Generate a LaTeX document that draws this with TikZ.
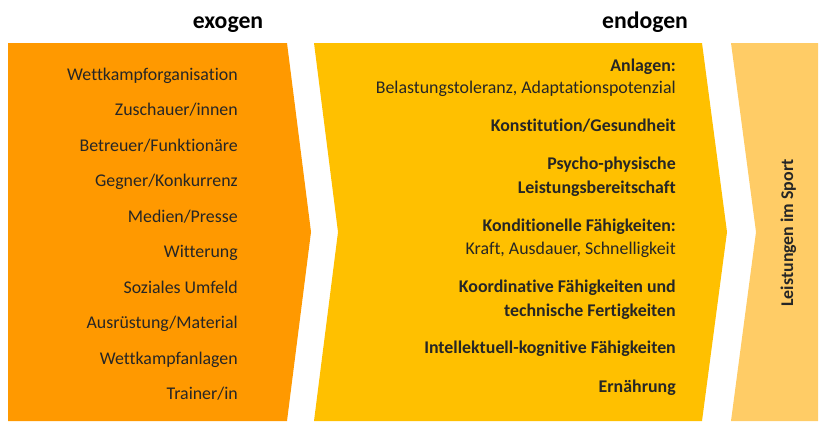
\documentclass[tikz,border=0pt]{standalone}
\usepackage{fontspec}
\setmainfont[Ligatures=NoCommon]{Carlito}
\definecolor{exo}{RGB}{255,153,0}
\definecolor{endo}{RGB}{255,192,0}
\definecolor{perf}{RGB}{255,204,102}
\begin{document}
\begin{tikzpicture}[x=0.75pt,y=-0.75pt,
  item/.style={anchor=base east,inner sep=0pt,font=\fontsize{13.4}{15}\selectfont,text=black!85},
  bitem/.style={item,font=\fontsize{13.4}{15}\selectfont\bfseries},
  head/.style={anchor=base,inner sep=0pt,font=\fontsize{17.8}{20}\selectfont\bfseries}]
\useasboundingbox (0,0) rectangle (830,437);
% shapes
\fill[exo] (8,43) -- (287,43) -- (311,232) -- (287,421) -- (8,421) -- cycle;
\fill[endo] (314,43) -- (702,43) -- (727,232) -- (702,421) -- (314,421) -- (338,232) -- cycle;
\fill[perf] (731,43) -- (818,43) -- (818,421) -- (731,421) -- (756,232) -- cycle;
% headers
\node[head] (hexo) at (228,28) {exogen};
\node[head] (hendo) at (645,28) {endogen};
% exogen items
\node[item] (e1) at (238,80) {Wettkampforganisation};
\node[item] (e2) at (238,115.5) {Zuschauer/innen};
\node[item] (e3) at (238,151) {Betreuer/Funktionäre};
\node[item] (e4) at (238,186.5) {Gegner/Konkurrenz};
\node[item] (e5) at (238,222) {Medien/Presse};
\node[item] (e6) at (238,257.5) {Witterung};
\node[item] (e7) at (238,293) {Soziales Umfeld};
\node[item] (e8) at (238,328.5) {Ausrüstung/Material};
\node[item] (e9) at (238,364) {Wettkampfanlagen};
\node[item] (e10) at (238,399.5) {Trainer/in};
% endogen items
\node[bitem] (n1) at (676,71) {Anlagen:};
\node[item] (n1b) at (676,93) {Belastungstoleranz, Adaptationspotenzial};
\node[bitem] (n2) at (676,131) {Konstitution/Gesundheit};
\node[bitem] (n3) at (676,169) {Psycho-physische};
\node[bitem] (n3b) at (676,193) {Leistungsbereitschaft};
\node[bitem] (n4) at (676,231) {Konditionelle Fähigkeiten:};
\node[item] (n4b) at (676,254) {Kraft, Ausdauer, Schnelligkeit};
\node[bitem] (n5) at (676,292) {Koordinative Fähigkeiten und};
\node[bitem] (n5b) at (676,316) {technische Fertigkeiten};
\node[bitem] (n6) at (676,353) {Intellektuell-kognitive Fähigkeiten};
\node[bitem] (n7) at (676,392) {Ernährung};
% performance
\node[rotate=90,anchor=base,inner sep=0pt,font=\fontsize{13.4}{15}\selectfont\bfseries,text=black!85] (perfl) at (793,233) {Leistungen im Sport};
\end{tikzpicture}
\end{document}
